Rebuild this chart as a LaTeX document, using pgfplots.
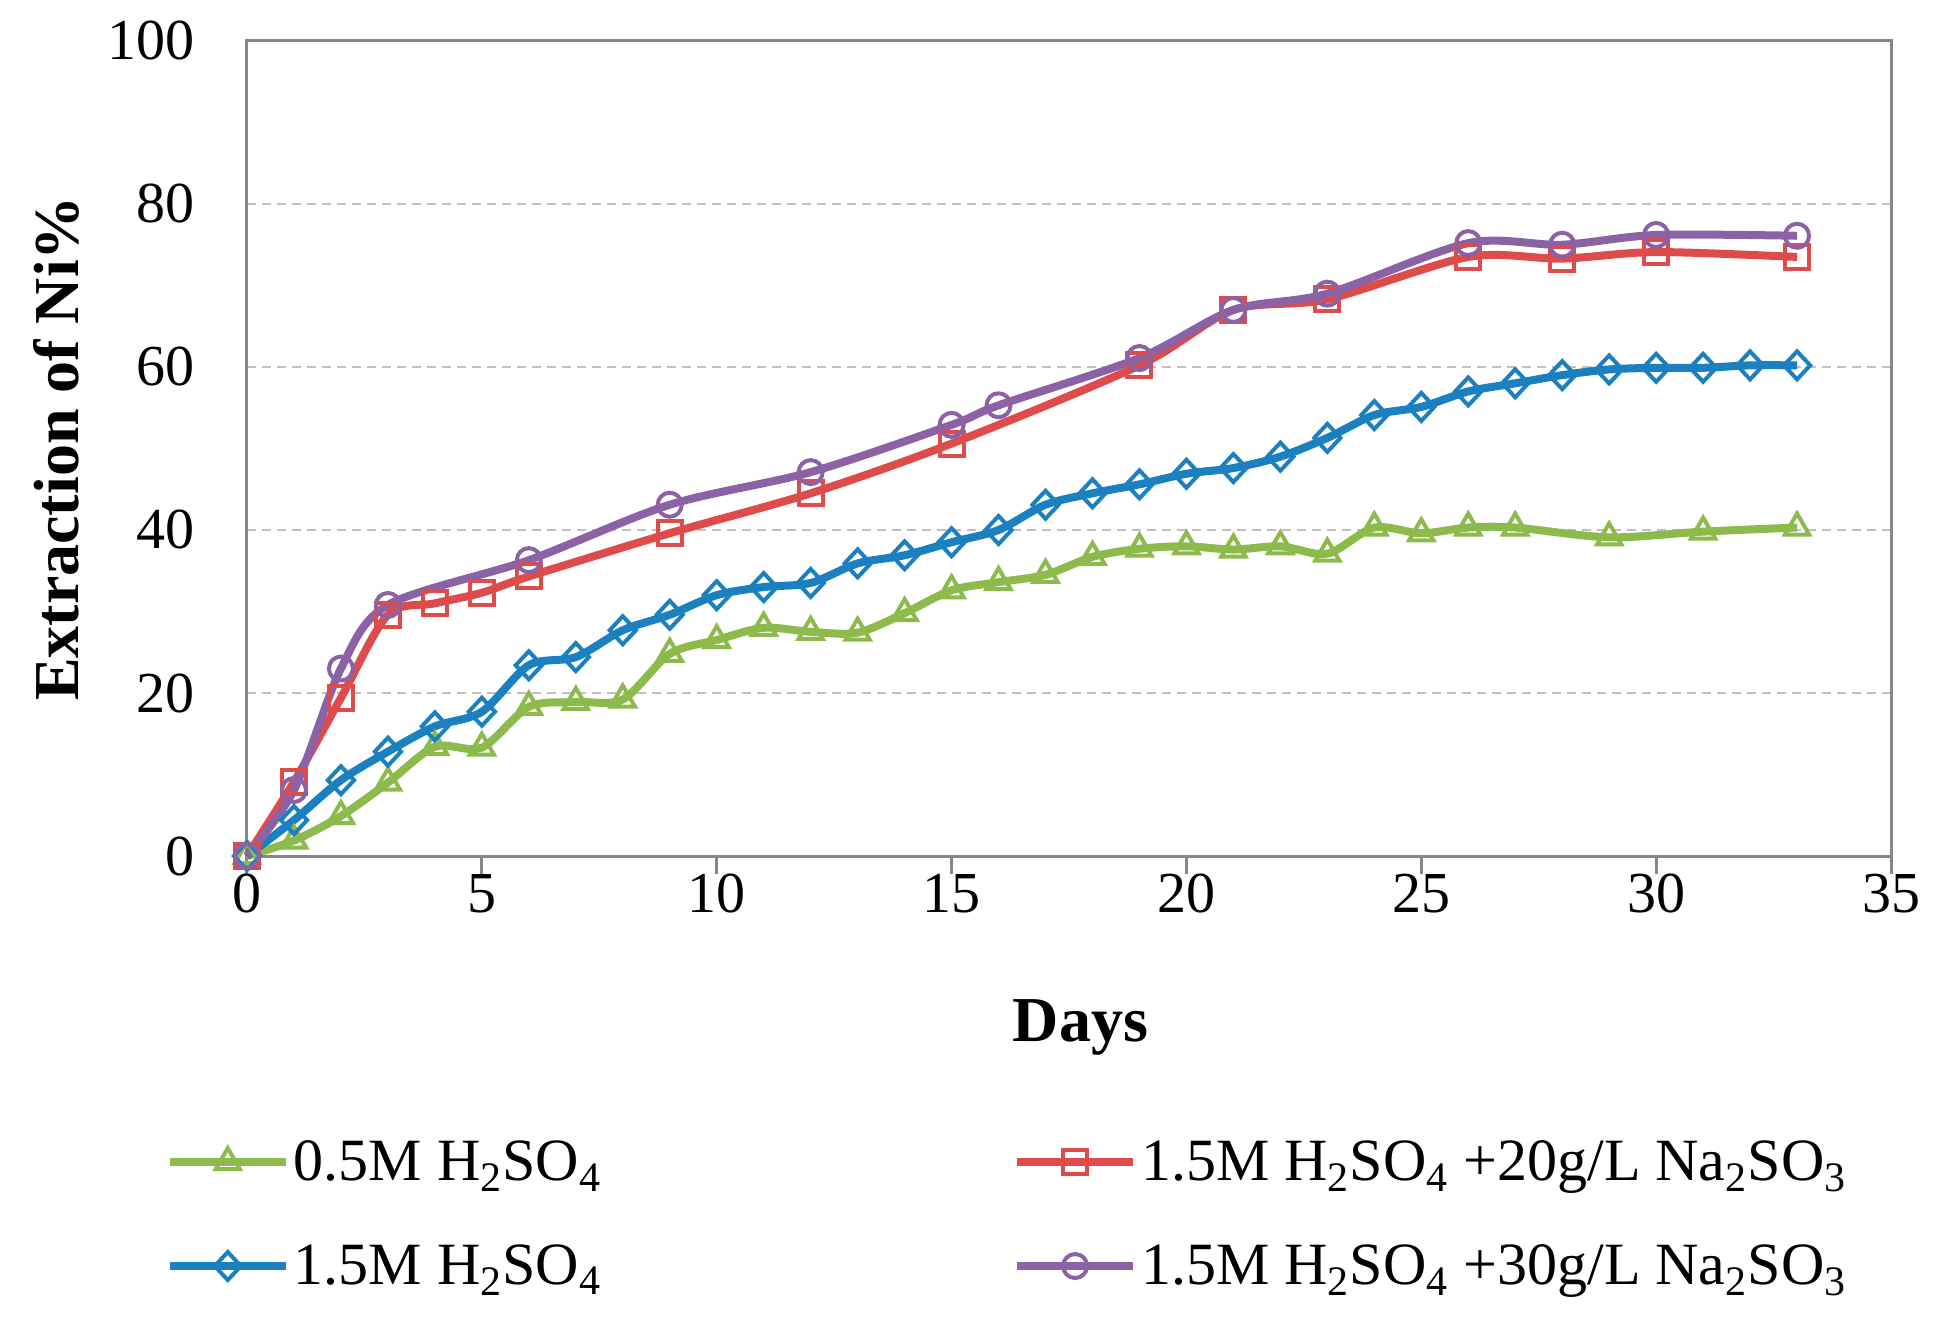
\documentclass[border=0pt]{standalone}
\usepackage{fontspec}
\setmainfont{Liberation Serif}
\usepackage{pgfplots}
\pgfplotsset{compat=1.18}

\definecolor{cgreen}{HTML}{8CBB4B}
\definecolor{cblue}{HTML}{1A80C0}
\definecolor{cred}{HTML}{DD4B4A}
\definecolor{cpurple}{HTML}{8B62A6}
\definecolor{axgray}{HTML}{878787}
\definecolor{gridgray}{HTML}{C0C0C0}

\newcommand{\sub}[1]{\textsubscript{#1}}

\begin{document}
\begin{tikzpicture}
\useasboundingbox (-123.5pt,-232pt) rectangle (847.5pt,428pt);
\begin{axis}[
    scale only axis,
    width=822pt, height=407.5pt,
    xmin=0, xmax=35, ymin=0, ymax=100,
    xtick={0,5,...,35}, ytick={0,20,...,100},
    axis line style={axgray, line width=1.5pt},
    tick align=outside, major tick length=9pt,
    xtick pos=left,
    x tick style={axgray, line width=1.5pt},
    ytick style={draw=none},
    ymajorgrids,
    grid style={gridgray, line width=1.2pt, dash pattern=on 4.5pt off 3pt},
    /pgf/number format/assume math mode=true,
    ticklabel style={font=\fontsize{29}{34}\selectfont},
    xticklabel style={inner sep=0pt, anchor=north},
    yticklabel style={inner sep=0pt, anchor=east, xshift=-17pt},
    label style={font=\fontsize{32}{38}\selectfont\bfseries},
    xlabel={Days},
    ylabel={Extraction of Ni\%},
    xlabel style={at={(axis description cs:0.507,-0.2098)}, anchor=center},
    ylabel style={at={(axis description cs:-0.1162,0.5)}, anchor=center},
    clip=false,
    legend columns=2,
    legend cell align=left,
    legend style={
        at={(axis description cs:-0.0533,-0.339)}, anchor=north west,
        draw=none, fill=none,
        font=\fontsize{30}{36}\selectfont,
        /tikz/every even column/.append style={column sep=204pt},
        row sep=26.5pt,
    },
    legend image code/.code={
        \draw[#1, mark repeat=2, mark phase=2]
        plot coordinates {(0pt,0pt) (29pt,0pt) (58pt,0pt)};
    },
    every axis plot/.append style={line width=4pt, smooth, tension=0.5},
]

\addplot[cgreen, mark=triangle, mark size=7pt,
    mark options={fill=white, line width=2pt, solid}]
coordinates {
    (0,0) (1,1.9) (2,4.9) (3,9.0) (4,13.4) (5,13.3) (6,18.3) (7,18.9)
    (8,19.2) (9,24.8) (10,26.5) (11,28.0) (12,27.5) (13,27.4) (14,29.8)
    (15,32.6) (16,33.6) (17,34.5) (18,36.7) (19,37.7) (20,38.0) (21,37.6)
    (22,38.0) (23,37.1) (24,40.3) (25,39.6) (26,40.3) (27,40.3) (29,39.1)
    (31,39.8) (33,40.3)
};
\addlegendentry{0.5M H\sub{2}SO\sub{4}}

\addplot[cred, mark=square, mark size=6pt,
    mark options={fill=white, line width=2pt, solid}]
coordinates {
    (0,0) (1,9.1) (2,19.4) (3,29.6) (4,31.0) (5,32.3) (6,34.3) (9,39.6)
    (12,44.5) (15,50.6) (19,60.2) (21,67.0) (23,68.3) (26,73.5) (28,73.3)
    (30,74.1) (33,73.5)
};
\addlegendentry{1.5M H\sub{2}SO\sub{4} +20g/L Na\sub{2}SO\sub{3}}

\addplot[cblue, mark=diamond, mark size=7pt,
    mark options={fill=white, line width=2pt, solid, xscale=1.25}]
coordinates {
    (0,0) (1,4.4) (2,9.3) (3,12.8) (4,15.9) (5,17.7) (6,23.4) (7,24.4)
    (8,27.7) (9,29.6) (10,32.0) (11,33.0) (12,33.5) (13,35.9) (14,36.9)
    (15,38.5) (16,40.0) (17,43.1) (18,44.5) (19,45.6) (20,46.9) (21,47.6)
    (22,49.0) (23,51.3) (24,54.1) (25,55.1) (26,57.0) (27,58.0) (28,59.0)
    (29,59.7) (30,59.9) (31,59.9) (32,60.2) (33,60.2)
};
\addlegendentry{1.5M H\sub{2}SO\sub{4}}

\addplot[cpurple, mark=o, mark size=6pt,
    mark options={fill=white, line width=2pt, solid}]
coordinates {
    (0,0) (1,8.1) (2,23.0) (3,30.8) (6,36.3) (9,43.1) (12,47.1) (15,52.9)
    (16,55.3) (19,61.1) (21,67.0) (23,69.0) (26,75.2) (28,75.0) (30,76.2)
    (33,76.1)
};
\addlegendentry{1.5M H\sub{2}SO\sub{4} +30g/L Na\sub{2}SO\sub{3}}

\end{axis}
\end{tikzpicture}
\end{document}
